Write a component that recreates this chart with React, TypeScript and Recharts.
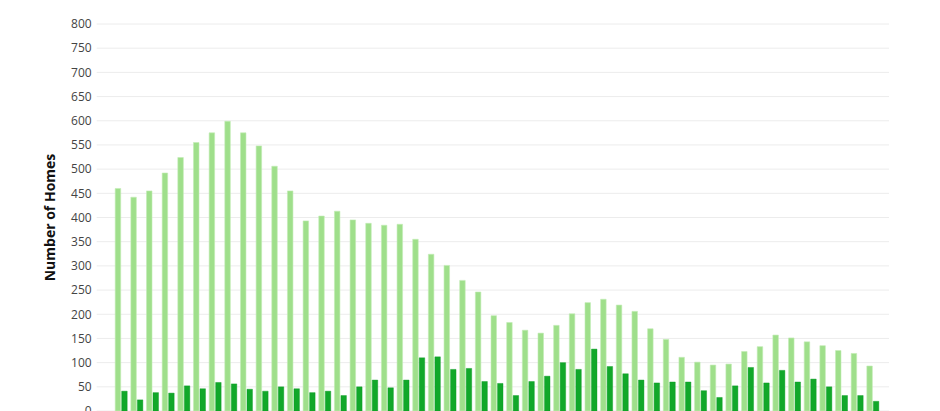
import React from "react";
import { BarChart, Bar, XAxis, YAxis, CartesianGrid } from "recharts";

// 49 periods, labels are not visible in the source (axis is cropped)
const periods = Array.from({ length: 49 }, (_, i) => `P${i + 1}`);

const totalHomes = [
  460, 442, 455, 492, 524, 555, 575, 599, 575, 548, 506, 455, 393, 403, 413,
  395, 388, 384, 386, 355, 324, 301, 270, 246, 197, 183, 167, 161, 177, 201,
  224, 231, 219, 206, 170, 148, 111, 101, 95, 97, 123, 133, 157, 151, 143,
  135, 125, 119, 93,
];

const soldHomes = [
  41, 23, 38, 37, 52, 46, 59, 56, 45, 41, 50, 46, 38, 41, 32, 50, 64, 48, 64,
  110, 112, 86, 88, 61, 57, 32, 61, 72, 100, 86, 128, 92, 77, 64, 58, 60, 60,
  42, 28, 52, 90, 58, 84, 60, 66, 50, 32, 32, 20,
];

const yTicks = [0, 50, 100, 150, 200, 250, 300, 350, 400, 450, 500, 550, 600, 650, 700, 750, 800];

const data = periods.map((period, i) => ({
  period,
  total: totalHomes[i],
  sold: soldHomes[i],
}));

const App = () => {
  return (
    <div style={{ width: 932, height: 430 }}>
      <BarChart
        width={932}
        height={430}
        data={data}
        margin={{ top: 16, right: 51, bottom: 27, left: 0 }}
        barGap={1}
      >
        <CartesianGrid vertical={false} stroke="#ececec" />
        <XAxis
          dataKey="period"
          hide
          padding={{ left: 16.5, right: 8.5 }}
        />
        <YAxis
          width={88.7}
          domain={[0, 800]}
          ticks={yTicks}
          interval={0}
          axisLine={false}
          tickLine={false}
          tickSize={3}
          tickMargin={2}
          tick={{ fill: "#444", fontSize: 12, fontFamily: "Open Sans" }}
          label={{
            value: "Number of Homes",
            angle: -90,
            position: "insideLeft",
            offset: 42,
            style: {
              textAnchor: "middle",
              fontFamily: "Open Sans",
              fontWeight: 700,
              fontSize: 14,
              fill: "#111",
            },
          }}
        />
        <Bar
          dataKey="total"
          fill="#9fdf8b"
          stroke="#c2edb5"
          strokeWidth={0.6}
          barSize={5.5}
          isAnimationActive={false}
        />
        <Bar
          dataKey="sold"
          fill="#11a82a"
          stroke="#0a9a22"
          strokeWidth={0.4}
          barSize={5.5}
          isAnimationActive={false}
        />
      </BarChart>
    </div>
  );
};

export default App;
